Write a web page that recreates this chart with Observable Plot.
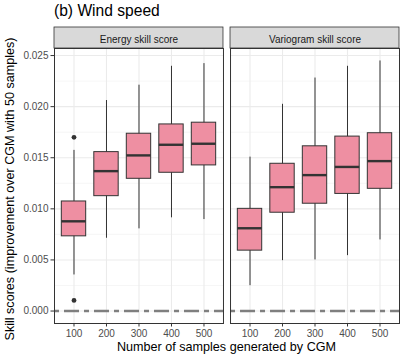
<!DOCTYPE html>
<html>
<head>
<meta charset="utf-8">
<script src="https://cdn.jsdelivr.net/npm/d3@7"></script>
<script src="https://cdn.jsdelivr.net/npm/@observablehq/plot@0.6"></script>
<style>
  body { margin: 0; background: #fff; font-family: "Liberation Sans", Arial, sans-serif; }
  #wrap { position: relative; width: 407px; height: 361px; overflow: hidden; }
  #wrap svg { position: absolute; left: 0; top: 0; }
  .lbl { position: absolute; white-space: nowrap; color: #000; }
</style>
</head>
<body>
<div id="wrap">
  <div class="lbl" id="title" style="left:54px; top:2px; font-size:15.6px; line-height:18px;">(b) Wind speed</div>
  <div class="lbl" id="xlab" style="left:226.5px; top:340px; font-size:12.6px; line-height:14px; transform:translateX(-50%);">Number of samples generated by CGM</div>
  <div class="lbl" id="ylab" style="left:10px; top:189px; font-size:12.6px; line-height:14px; transform:translate(-50%,-50%) rotate(-90deg);">Skill scores (improvement over CGM with 50 samples)</div>
</div>
<script>
// ---- data ----
const panels = ["Energy skill score", "Variogram skill score"];
const categories = ["100", "200", "300", "400", "500"];

const energyLow    = [0.00353, 0.00712, 0.00804, 0.00912, 0.00895];
const energyQ1     = [0.00731, 0.01124, 0.01294, 0.01353, 0.01425];
const energyMedian = [0.00878, 0.01369, 0.01523, 0.01627, 0.01637];
const energyQ3     = [0.01072, 0.01555, 0.01735, 0.01826, 0.01843];
const energyHigh   = [0.01572, 0.02060, 0.02210, 0.02395, 0.02421];
const energyOutlierCat = ["100", "100"];
const energyOutlierVal = [0.01700, 0.00104];

const varioLow    = [0.00248, 0.00493, 0.00500, 0.00542, 0.00696];
const varioQ1     = [0.00591, 0.00962, 0.01050, 0.01146, 0.01196];
const varioMedian = [0.00810, 0.01212, 0.01330, 0.01410, 0.01467];
const varioQ3     = [0.01000, 0.01441, 0.01612, 0.01707, 0.01740];
const varioHigh   = [0.01506, 0.02023, 0.02280, 0.02395, 0.02447];
const varioOutlierCat = [];
const varioOutlierVal = [];

const yTicks = [0, 0.005, 0.01, 0.015, 0.02, 0.025];
const yMinorTicks = [0.0025, 0.0075, 0.0125, 0.0175, 0.0225];
const yDomain = [-0.00122, 0.02569];

// ---- build tables ----
function boxes(panel, low, q1, med, q3, high) {
  return categories.map((c, i) => ({panel, cat: c, low: low[i], q1: q1[i], med: med[i], q3: q3[i], high: high[i]}));
}
const boxData = [
  ...boxes(panels[0], energyLow, energyQ1, energyMedian, energyQ3, energyHigh),
  ...boxes(panels[1], varioLow, varioQ1, varioMedian, varioQ3, varioHigh)
];
const outliers = [
  ...energyOutlierCat.map((c, i) => ({panel: panels[0], cat: c, v: energyOutlierVal[i]})),
  ...varioOutlierCat.map((c, i) => ({panel: panels[1], cat: c, v: varioOutlierVal[i]}))
];

const dark = "#333333";
const fill = "#EE8FA2";

const plot = Plot.plot({
  width: 407,
  height: 361,
  marginTop: 48,
  marginBottom: 38,
  marginLeft: 54,
  marginRight: 8,
  style: {fontFamily: "Liberation Sans, Arial, sans-serif", fontSize: "10px", background: "transparent"},
  fx: {domain: panels, paddingInner: 0.04, paddingOuter: 0, round: false, label: null},
  x: {domain: categories, paddingInner: 0.25, paddingOuter: 0.225, round: false, label: null},
  y: {domain: yDomain, label: null},
  marks: [
    Plot.gridY(yMinorTicks, {stroke: "#F0F0F0", strokeOpacity: 1, strokeWidth: 0.6}),
    Plot.gridY(yTicks, {stroke: "#EBEBEB", strokeOpacity: 1, strokeWidth: 1.1}),
    Plot.gridX(categories, {stroke: "#EBEBEB", strokeOpacity: 1, strokeWidth: 1.1}),
    Plot.ruleY([0], {stroke: "#7F7F7F", strokeWidth: 2.6, strokeDasharray: "5,5,15,5"}),
    Plot.ruleX(boxData, {fx: "panel", x: "cat", y1: "low", y2: "high", stroke: dark, strokeWidth: 1}),
    Plot.barY(boxData, {fx: "panel", x: "cat", y1: "q1", y2: "q3", fill: fill, stroke: dark, strokeWidth: 1}),
    Plot.tickY(boxData, {fx: "panel", x: "cat", y: "med", stroke: dark, strokeWidth: 2.4}),
    Plot.dot(outliers, {fx: "panel", x: "cat", y: "v", r: 2.4, fill: dark, stroke: "none"}),
    Plot.frame({stroke: dark, strokeWidth: 1}),
    Plot.axisY(yTicks, {anchor: "left", tickSize: 3.5, tickPadding: 2.5, tickFormat: d3.format(".3f"), fill: "#4D4D4D", stroke: dark, label: null}),
    Plot.axisX(categories, {anchor: "bottom", tickSize: 3.5, tickPadding: 3, fill: "#4D4D4D", stroke: dark, label: null}),
    Plot.axisFx({anchor: "top", tickSize: 0, tickPadding: 5.5, fill: "#1A1A1A", label: null})
  ]
});

// strip backgrounds placed with the fx scale
const fx = plot.scale("fx");
const svg = d3.select(plot);
const first = plot.firstChild && plot.firstChild.nextSibling ? plot.firstChild.nextSibling : null;
panels.forEach(p => {
  const x0 = fx.apply(p);
  svg.insert("rect", () => first)
    .attr("x", x0)
    .attr("y", 27)
    .attr("width", fx.bandwidth)
    .attr("height", 21)
    .attr("fill", "#D9D9D9")
    .attr("stroke", dark)
    .attr("stroke-width", 0.8);
});

document.getElementById("wrap").prepend(plot);
</script>
</body>
</html>
